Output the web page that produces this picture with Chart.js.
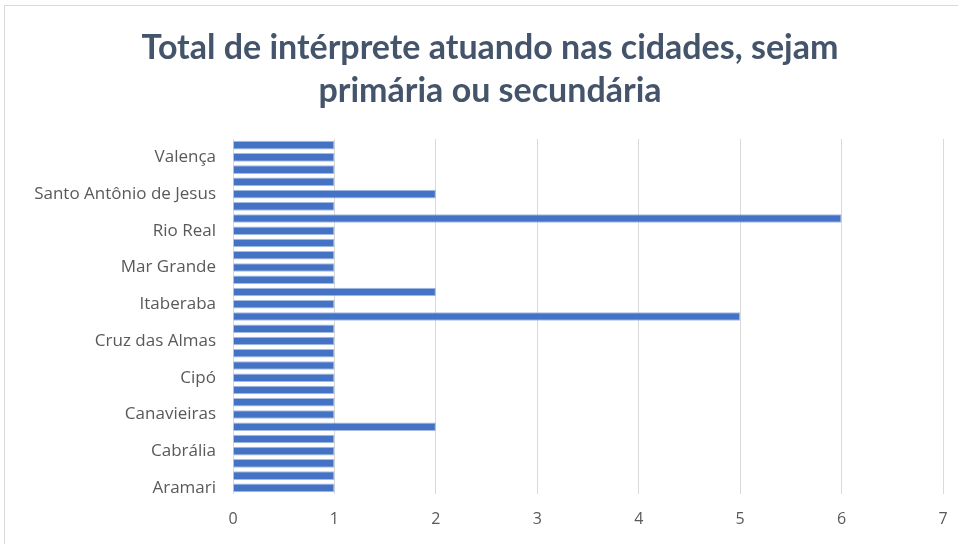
<!DOCTYPE html>
<html>
<head>
<meta charset="utf-8">
<script src="https://cdn.jsdelivr.net/npm/chart.js@4.4.1/dist/chart.umd.min.js"></script>
<style>
  html, body { margin: 0; padding: 0; background: #fff; overflow: hidden; }
  #wrap { position: relative; width: 958px; height: 544px; }
  #frame { position: absolute; left: 4px; top: 5px; width: 960px; height: 545px; border: 1px solid #d9d9d9; pointer-events: none; }
</style>
</head>
<body>
<div id="wrap">
  <canvas id="chart" width="958" height="544"></canvas>
  <div id="frame"></div>
</div>
<script>
// cidades (de baixo para cima, como no Excel)
let cidades = [
   'Aramari', 'Barreiras', 'Bom Jesus da Lapa',
   'Cabrália', 'Cachoeira', 'Camaçari',
   'Canavieiras', 'Castro Alves', 'Catu',
   'Cipó', 'Conceição do Coité', 'Crisópolis',
   'Cruz das Almas', 'Entre Rios', 'Feira de Santana',
   'Itaberaba', 'Itabuna', 'Jequié',
   'Mar Grande', 'Olindina', 'Porto Seguro',
   'Rio Real', 'Salvador', 'Santo Amaro',
   'Santo Antônio de Jesus', 'Serrinha', 'Teixeira de Freitas',
   'Valença', 'Vitória da Conquista'
]
let interpretes = [
   1, 1, 1,
   1, 1, 2,
   1, 1, 1,
   1, 1, 1,
   1, 1, 5,
   1, 2, 1,
   1, 1, 1,
   1, 6, 1,
   2, 1, 1,
   1, 1
]
let ticksX = [0, 1, 2, 3, 4, 5, 6, 7]

const ctx = document.getElementById('chart').getContext('2d')

const myChart = new Chart(ctx, {
   type: 'bar',
   data: {
      labels: cidades,
      datasets: [{
         label: 'Total',
         data: interpretes,
         backgroundColor: '#4472C4',
         borderColor: 'rgba(143,170,220,0.8)',
         borderWidth: 1,
         barPercentage: 0.7,
         categoryPercentage: 1
      }]
   },
   options: {
      indexAxis: 'y',
      responsive: false,
      animation: false,
      layout: {
         padding: { left: 25, right: 3, top: 0, bottom: 1 }
      },
      plugins: {
         legend: { display: false },
         tooltip: { enabled: false },
         title: {
            display: true,
            text: ['Total de intérprete atuando nas cidades, sejam', 'primária ou secundária'],
            color: '#44546A',
            font: { family: 'Lato', size: 34, weight: 'bold', lineHeight: 1.265 },
            padding: { top: 27, bottom: 26 }
         }
      },
      scales: {
         x: {
            min: 0,
            max: 7,
            afterBuildTicks: (scale) => {
               scale.ticks = ticksX.map(v => ({ value: v }))
            },
            afterFit: (scale) => {
               scale.height = 49
               scale.paddingRight = 15
            },
            grid: { color: '#D9D9D9', drawTicks: false },
            border: { display: false },
            ticks: {
               color: '#595959',
               font: { family: 'Open Sans', size: 16 },
               padding: 16
            }
         },
         y: {
            reverse: true,
            afterFit: (scale) => { scale.width = 208 },
            grid: { display: false, drawTicks: false },
            border: { display: false },
            ticks: {
               autoSkip: false,
               color: '#595959',
               font: { family: 'Open Sans', size: 17 },
               padding: 17,
               callback: function (value, index) {
                  return index % 3 == 0 ? this.getLabelForValue(value) : ''
               }
            }
         }
      }
   }
})
</script>
</body>
</html>
